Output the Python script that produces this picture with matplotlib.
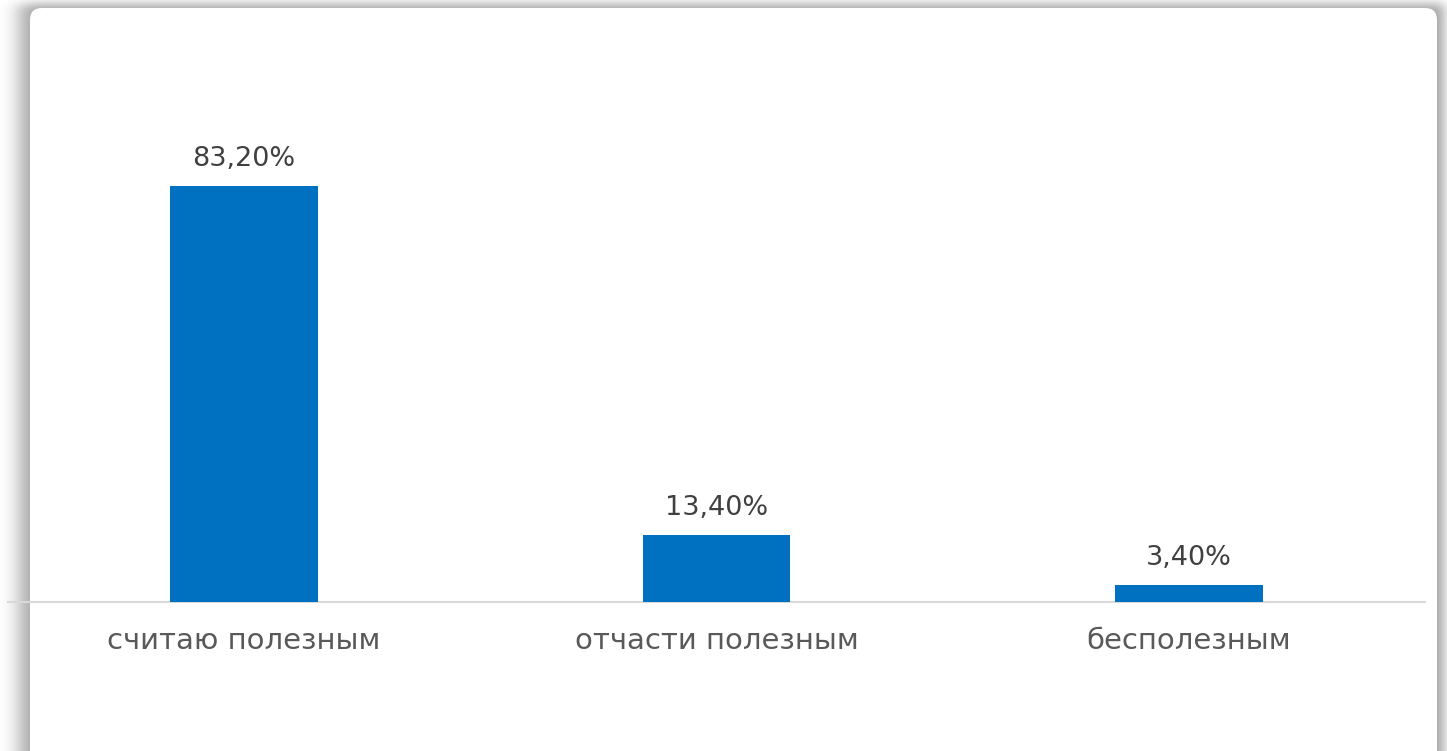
import math
import numpy as np
import matplotlib.pyplot as plt
from matplotlib.patches import FancyBboxPatch

# ответы на вопрос о полезности
categories = ['считаю полезным', 'отчасти полезным', 'бесполезным']
values = [83.2, 13.4, 3.4]
value_labels = ['83,20%', '13,40%', '3,40%']

W, H = 1447, 751
fig = plt.figure(figsize=(W / 100, H / 100), dpi=100)
fig.patch.set_facecolor('white')

# фон: карточка с мягкой тенью, в пиксельных координатах
bg = fig.add_axes([0, 0, 1, 1])
bg.set_xlim(0, W)
bg.set_ylim(H, 0)
bg.axis('off')

phi = np.frompyfunc(lambda t: 0.5 * (1 + math.erf(t / math.sqrt(2))), 1, 1)
xs = np.arange(W) + 0.5
ys = np.arange(H) + 0.5
fx = (phi((xs - 20) / 10.0) * phi((1444 - xs) / 6.0)).astype(float)
fy = phi((ys - 4) / 5.0).astype(float)
shadow = np.zeros((H, W, 4))
shadow[..., 3] = 0.36 * np.outer(fy, fx)
bg.imshow(shadow, extent=(0, W, H, 0), interpolation='bilinear', aspect='auto')

card = FancyBboxPatch((30, 8), 1407, 800,
                      boxstyle='round,pad=0,rounding_size=12',
                      fc='white', ec='none')
bg.add_patch(card)
bg.set_xlim(0, W)
bg.set_ylim(H, 0)

# сама диаграмма
ax = fig.add_axes([8 / W, (H - 602) / H, (1425 - 8) / W, 500 / H])
ax.set_facecolor('none')
x = range(len(categories))
bars = ax.bar(x, values, width=0.313, color='#0070C0', zorder=3)
ax.set_xlim(-0.5, 2.5)
ax.set_ylim(0, 100)

for b, v, lab in zip(bars, values, value_labels):
    ax.annotate(lab, (b.get_x() + b.get_width() / 2, v),
                xytext=(0, 10), textcoords='offset points',
                ha='center', va='bottom', fontsize=19.5, color='#404040')

ax.set_xticks(list(x))
ax.set_xticklabels(categories, fontsize=21, color='#595959')
ax.tick_params(axis='x', length=0, pad=18)
ax.set_yticks([])
for s in ['top', 'left', 'right']:
    ax.spines[s].set_visible(False)
ax.spines['bottom'].set_color('#d9d9d9')
ax.spines['bottom'].set_linewidth(1.5)

fig.savefig('out.png', dpi=100)
